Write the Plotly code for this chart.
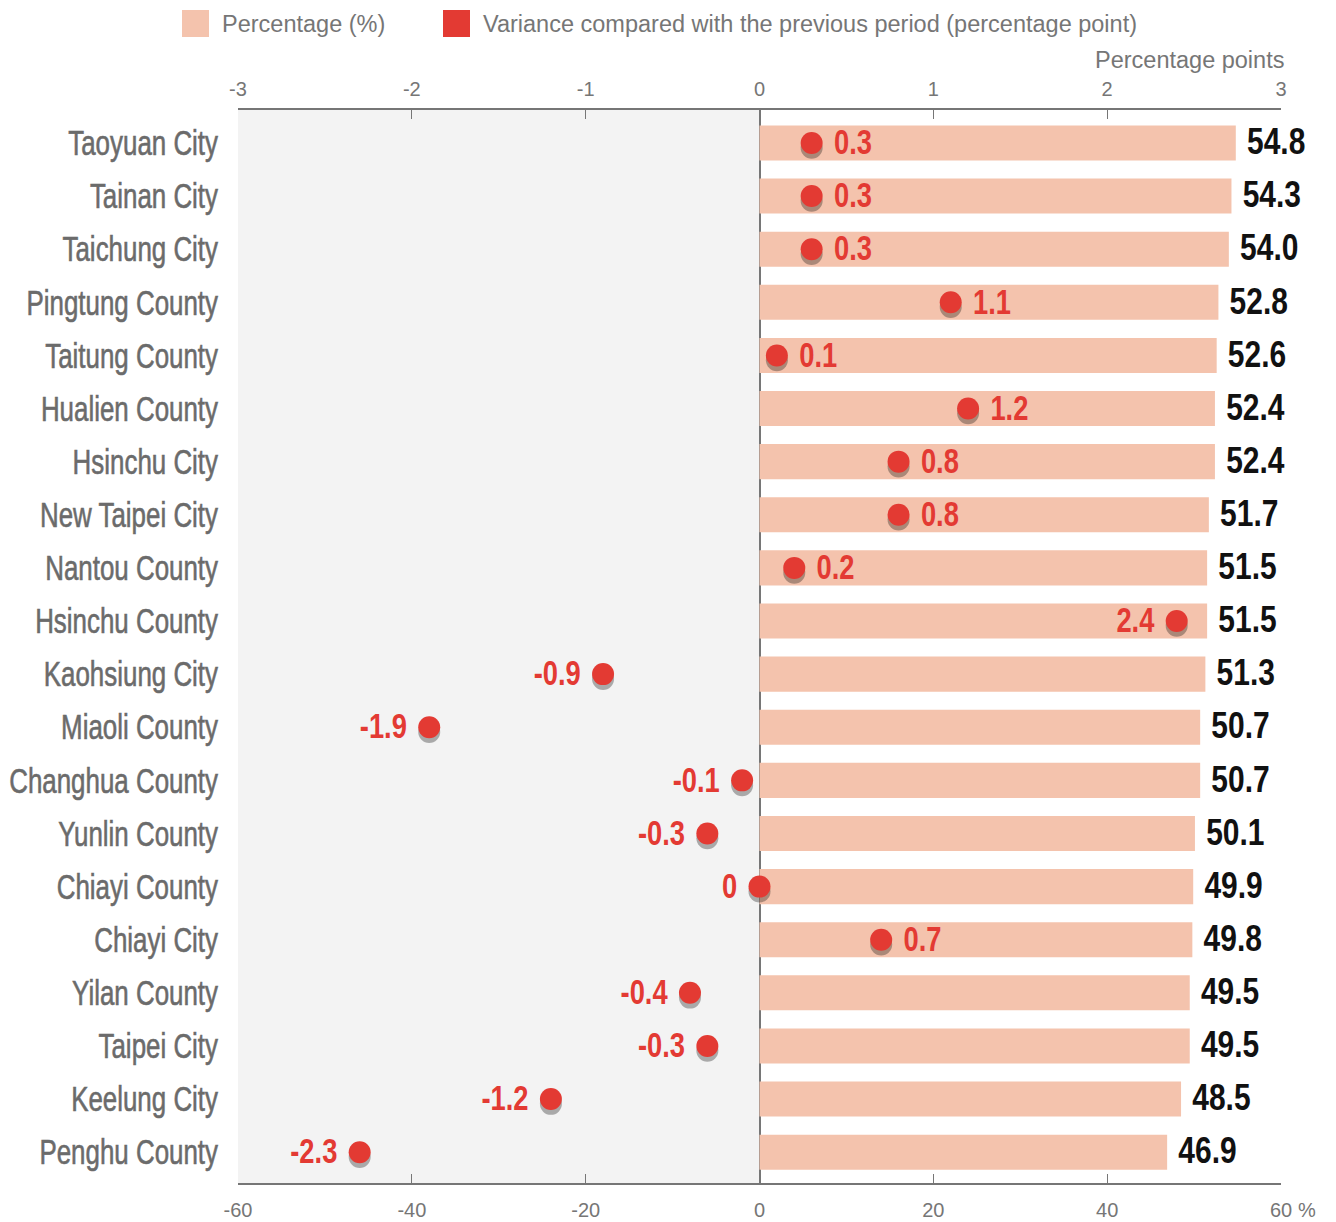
import plotly.graph_objects as go

regions = ["Taoyuan City", "Tainan City", "Taichung City", "Pingtung County", "Taitung County",
           "Hualien County", "Hsinchu City", "New Taipei City", "Nantou County", "Hsinchu County",
           "Kaohsiung City", "Miaoli County", "Changhua County", "Yunlin County", "Chiayi County",
           "Chiayi City", "Yilan County", "Taipei City", "Keelung City", "Penghu County"]
percentage = [54.8, 54.3, 54.0, 52.8, 52.6, 52.4, 52.4, 51.7, 51.5, 51.5,
              51.3, 50.7, 50.7, 50.1, 49.9, 49.8, 49.5, 49.5, 48.5, 46.9]
variance = [0.3, 0.3, 0.3, 1.1, 0.1, 1.2, 0.8, 0.8, 0.2, 2.4,
            -0.9, -1.9, -0.1, -0.3, 0, 0.7, -0.4, -0.3, -1.2, -2.3]
pct_ticks = [-60, -40, -20, 0, 20, 40, 60]
pp_ticks = [-3, -2, -1, 0, 1, 2, 3]
legend_names = ["Percentage (%)", "Variance compared with the previous period (percentage point)"]

FONT = "Liberation Sans, Arial, Helvetica, sans-serif"
GRAY = "#767676"
LABEL_GRAY = "#6b6b6b"
PEACH = "#f4c3ad"
RED = "#e33a33"

idx = list(range(len(regions)))
shadow_off = 0.09

var_text = [f"{v:g}" for v in variance]
var_pos = ["middle left" if (v <= 0 or v > 2) else "middle right" for v in variance]
var_tpl = ["%{text} " if p == "middle left" else " %{text}" for p in var_pos]

fig = go.Figure()

fig.add_trace(go.Bar(
    x=percentage, y=idx, orientation="h", width=0.66,
    marker=dict(color=PEACH, line=dict(width=0)),
    showlegend=False, hoverinfo="skip",
))
# value labels at bar ends
fig.add_trace(go.Scatter(
    x=percentage, y=idx, mode="markers+text",
    marker=dict(size=3, color="rgba(0,0,0,0)"),
    text=[f"{p:.1f}" for p in percentage], texttemplate=" %{text}",
    textposition="middle right", cliponaxis=False,
    textfont=dict(family=FONT, size=37, color="#111111", weight="bold"),
    showlegend=False, hoverinfo="skip",
))

fig.add_trace(go.Scatter(
    x=variance, y=[i + shadow_off for i in idx], xaxis="x2", mode="markers",
    marker=dict(size=22, color="rgba(0,0,0,0.3)"),
    showlegend=False, hoverinfo="skip", cliponaxis=False,
))
fig.add_trace(go.Scatter(
    x=variance, y=idx, xaxis="x2", mode="markers+text",
    marker=dict(size=22, color=RED),
    text=var_text, texttemplate=var_tpl, textposition=var_pos,
    textfont=dict(family=FONT, size=35, color=RED, weight="bold"),
    showlegend=False, cliponaxis=False, hoverinfo="skip",
))

axis_common = dict(
    showgrid=False, ticks="inside", ticklen=9, tickwidth=1, tickcolor=GRAY,
    showline=True, linecolor=GRAY, linewidth=2, automargin=False,
    tickfont=dict(family=FONT, size=20, color=GRAY),
)

legend_font = dict(family=FONT, size=23.5, color=GRAY)

fig.update_layout(
    width=1336, height=1222,
    margin=dict(l=238, r=55, t=110, b=39),
    plot_bgcolor="white", paper_bgcolor="white",
    showlegend=False,
    xaxis=dict(range=[-60, 60], tickvals=pct_ticks, ticktext=[str(t) for t in pct_ticks],
               zeroline=True, zerolinecolor=GRAY, zerolinewidth=2, ticklabelstandoff=8,
               **axis_common),
    xaxis2=dict(range=[-3, 3], overlaying="x", side="top", tickvals=pp_ticks,
                ticktext=[str(t) for t in pp_ticks], zeroline=False, ticklabelstandoff=4,
                **axis_common),
    yaxis=dict(range=[19.58, -0.62], tickvals=idx, ticktext=regions, showgrid=False,
               zeroline=False, showline=False, ticks="", ticklabelstandoff=19,
               automargin=False,
               tickfont=dict(family=FONT, size=35, color=LABEL_GRAY)),
    shapes=[
        dict(type="rect", xref="x", yref="y domain", x0=-60, x1=0, y0=0, y1=1,
             fillcolor="#f3f3f3", line=dict(width=0), layer="below"),
        # legend swatches
        dict(type="rect", xref="paper", yref="paper", xsizemode="pixel", ysizemode="pixel",
             xanchor=0, yanchor=1, x0=-56, x1=-29, y0=73, y1=100,
             fillcolor=PEACH, line=dict(width=0)),
        dict(type="rect", xref="paper", yref="paper", xsizemode="pixel", ysizemode="pixel",
             xanchor=0, yanchor=1, x0=205, x1=232, y0=73, y1=100,
             fillcolor=RED, line=dict(width=0)),
    ],
    annotations=[
        dict(text=legend_names[0], xref="paper", yref="paper", x=0, y=1, xanchor="left",
             yanchor="middle", xshift=-18, yshift=86, showarrow=False, font=legend_font),
        dict(text=legend_names[1], xref="paper", yref="paper", x=0, y=1, xanchor="left",
             yanchor="middle", xshift=243, yshift=86, showarrow=False, font=legend_font),
        dict(text="Percentage points", xref="paper", yref="paper", x=1, y=1,
             xanchor="right", yanchor="middle", xshift=5, yshift=50, showarrow=False,
             font=legend_font),
        dict(text="%", xref="paper", yref="paper", x=1, y=0, xanchor="left",
             yanchor="middle", xshift=15, yshift=-27, showarrow=False,
             font=dict(family=FONT, size=20, color=GRAY)),
    ],
)

post = """
document.documentElement.style.margin = '0';
document.documentElement.style.padding = '0';
document.body.style.margin = '0';
document.body.style.padding = '0';
var gd = document.getElementById('{plot_id}');
function squeeze(t, r, strokeW, dy) {
  if (t.getAttribute('data-sq')) return;
  var w = t.getComputedTextLength();
  if (!w) return;
  t.setAttribute('lengthAdjust', 'spacingAndGlyphs');
  t.setAttribute('textLength', (w * r).toFixed(2));
  if (strokeW) {
    t.style.stroke = t.style.fill;
    t.style.strokeWidth = strokeW + 'px';
  }
  if (dy) {
    var tr = t.getAttribute('transform') || '';
    t.setAttribute('transform', (tr + ' translate(0,' + dy + ')').trim());
  }
  t.setAttribute('data-sq', '1');
}
function condense() {
  gd.querySelectorAll('g.ytick text').forEach(function(t){ squeeze(t, 0.74, 0.6, 0); });
  gd.querySelectorAll('g.textpoint text').forEach(function(t){
    var f = (t.style.fill || '');
    if (f.indexOf('227') >= 0) { squeeze(t, 0.78, 0, 2.5); } else { squeeze(t, 0.81, 0, 2); }
  });
}
condense();
if (gd.on) { gd.on('plotly_afterplot', condense); }
setTimeout(condense, 50);
setTimeout(condense, 300);
"""

fig.write_html("out.html", post_script=post, config={"displayModeBar": False})
